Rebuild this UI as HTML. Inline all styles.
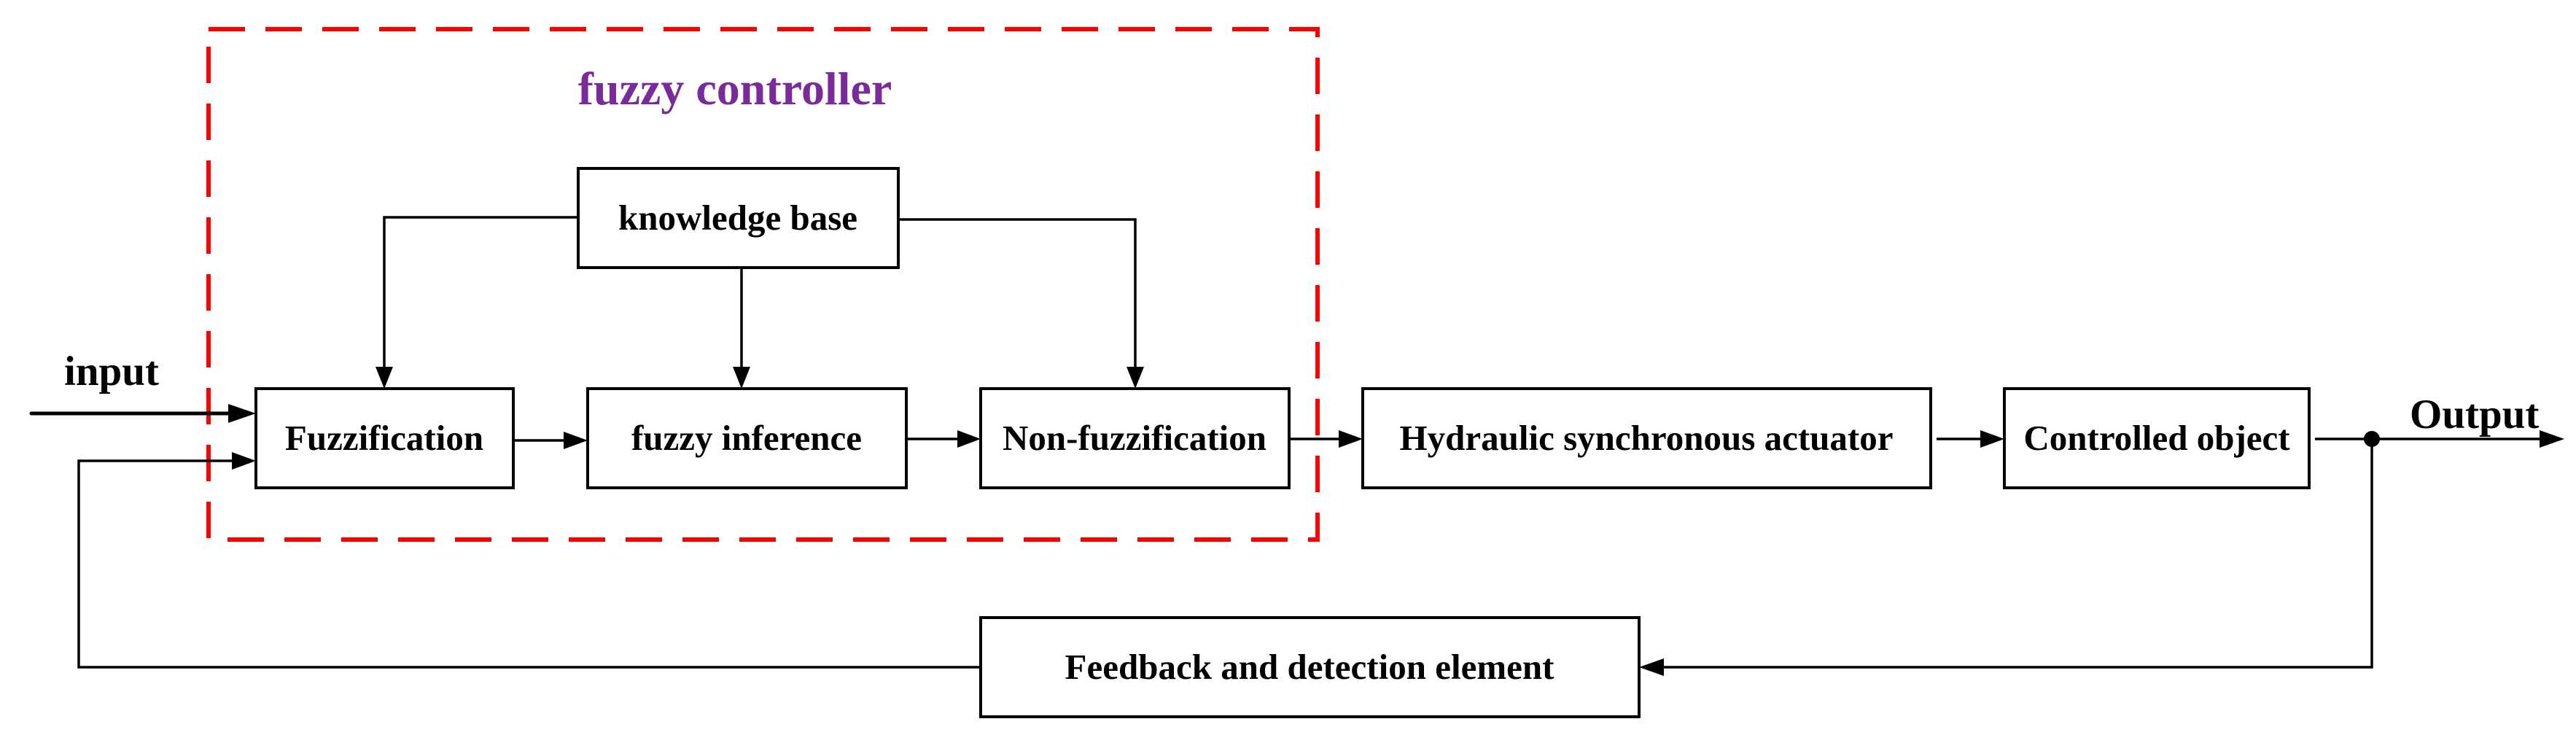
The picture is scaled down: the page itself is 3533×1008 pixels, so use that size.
<!DOCTYPE html>
<html><head><meta charset="utf-8"><style>html,body{margin:0;padding:0;background:#fff}svg{display:block}</style></head>
<body>
<svg width="3533" height="1008" viewBox="0 0 3533 1008" xmlns="http://www.w3.org/2000/svg" font-family="'Liberation Serif', serif" font-weight="bold">
<rect width="3533" height="1008" fill="#fff"/>
<rect x="286" y="40" width="1521" height="700" fill="none" stroke="#ff0000" stroke-width="6" stroke-dasharray="50 28"/>
<text x="1008" y="143" font-size="64" fill="#7b2a9c" text-anchor="middle">fuzzy controller</text>
<g fill="none" stroke="#000" stroke-width="4">
<rect x="793" y="231" width="439" height="136"/>
<rect x="351" y="533" width="353" height="136"/>
<rect x="806" y="533" width="437" height="136"/>
<rect x="1345" y="533" width="423" height="136"/>
<rect x="1869" y="533" width="779" height="136"/>
<rect x="2749" y="533" width="418" height="136"/>
<rect x="1345" y="847" width="903" height="136"/>
</g>
<g fill="none" stroke="#000" stroke-width="3.5">
<polyline points="793,298 527,298 527,505"/>
<polyline points="1232,301 1557,301 1557,505"/>
<line x1="1017" y1="367" x2="1017" y2="505"/>
<line x1="704" y1="604" x2="775" y2="604"/>
<line x1="1243" y1="602" x2="1315" y2="602"/>
<line x1="1768" y1="602" x2="1837" y2="602"/>
<line x1="2656" y1="602" x2="2718" y2="602"/>
<line x1="3175" y1="602" x2="3485" y2="602"/>
<polyline points="3253,602 3253,915 2280,915"/>
<polyline points="1345,915 108,915 108,632 318,632"/>
</g>
<line x1="43" y1="567" x2="315" y2="567" stroke="#000" stroke-width="5" stroke-linecap="round"/>
<g fill="#000">
<polygon points="515,503 539,503 527,533"/>
<polygon points="1005,503 1029,503 1017,533"/>
<polygon points="1545,503 1569,503 1557,533"/>
<polygon points="313,554 351,567 313,580"/>
<polygon points="318,620 351,632 318,644"/>
<polygon points="773,592 806,604 773,616"/>
<polygon points="1313,590 1345,602 1313,614"/>
<polygon points="1836,590 1869,602 1836,614"/>
<polygon points="2716,590 2749,602 2716,614"/>
<polygon points="3483,590 3517,602 3483,614"/>
<polygon points="2282,903 2248,915 2282,927"/>
<circle cx="3253" cy="602" r="11"/>
</g>
<g font-size="49" text-anchor="middle" fill="#000">
<text x="1012" y="315">knowledge base</text>
<text x="527" y="617">Fuzzification</text>
<text x="1024" y="617">fuzzy inference</text>
<text x="1556" y="617">Non-fuzzification</text>
<text x="2258" y="617">Hydraulic synchronous actuator</text>
<text x="2958" y="617">Controlled object</text>
<text x="1796" y="931">Feedback and detection element</text>
</g>
<text x="88" y="528" font-size="57" fill="#000">input</text>
<text x="3305" y="587" font-size="57" fill="#000">Output</text>
</svg>
</body></html>
